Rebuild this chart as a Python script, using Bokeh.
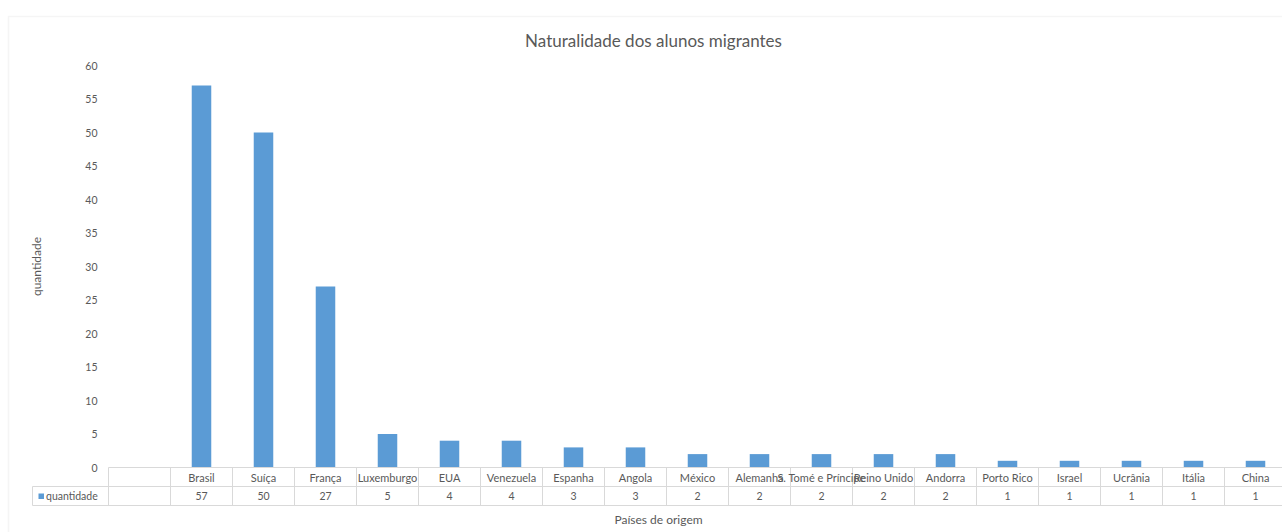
from bokeh.plotting import figure
from bokeh.models import Range1d, Label, BoxAnnotation, ColumnDataSource
from bokeh.core.properties import value
from bokeh.embed import file_html
from bokeh.resources import INLINE

# ---- data ----
title_text = "Naturalidade dos alunos migrantes"
y_axis_title = "quantidade"
x_axis_title = "Países de origem"
series_name = "quantidade"
countries = ["Brasil", "Suíça", "França", "Luxemburgo", "EUA", "Venezuela", "Espanha",
             "Angola", "México", "Alemanha", "S. Tomé e Príncipe", "Reino Unido",
             "Andorra", "Porto Rico", "Israel", "Ucrânia", "Itália", "China"]
counts = [57, 50, 27, 5, 4, 4, 3, 3, 2, 2, 2, 2, 2, 1, 1, 1, 1, 1]
y_ticks = [0, 5, 10, 15, 20, 25, 30, 35, 40, 45, 50, 55, 60]

# ---- layout constants (pixels) ----
W, H = 1282, 532
PLOT_LEFT = 108          # left edge of the first (blank) table column
CELL = 62                # width of one category column
Y0_PX, YTOP_PX = 467, 65
PPU = (Y0_PX - YTOP_PX) / (y_ticks[-1] - y_ticks[0])
FONT = "Lato"
TXT = "#595959"
GRID = "#d9d9d9"
BLUE = "#5B9BD5"


def X(px):
    return (px - PLOT_LEFT) / CELL


def Y(py):
    return (Y0_PX - py) / PPU


n_cols = len(countries) + 1  # first table column is blank

p = figure(width=W, height=H, output_backend="svg", toolbar_location=None,
           x_range=Range1d(X(0), X(W)), y_range=Range1d(Y(H), Y(0)),
           min_border=0, x_axis_location=None, y_axis_location=None)
p.outline_line_color = None
p.background_fill_color = "white"
p.border_fill_color = "white"
for g in p.grid:
    g.visible = False

# y axis tick labels and title
p.text(x=[X(97)] * len(y_ticks), y=y_ticks, text=[str(t) for t in y_ticks],
       text_font=value(FONT), text_font_size="10.5px", text_color=TXT,
       text_align="right", text_baseline="middle")
p.text(x=[X(36)], y=[Y(266)], text=[y_axis_title], angle=1.5708,
       text_font=value(FONT), text_font_size="12px", text_color=TXT,
       text_align="center", text_baseline="middle")

# bars
centers = [i + 1.5 for i in range(len(countries))]
src = ColumnDataSource(dict(
    x=centers, top=counts, name=countries, val=[str(c) for c in counts],
    y1=[Y(476.5)] * len(countries), y2=[Y(495.5)] * len(countries)))
p.vbar(x="x", top="top", bottom=0, width=0.315, source=src,
       fill_color=BLUE, line_color=None)

# data table lines
xr = [float(i) for i in range(n_cols + 1)]
p.segment(x0=xr, x1=xr, y0=[Y(467)] * len(xr), y1=[Y(505)] * len(xr),
          line_color=GRID, line_width=1)
p.segment(x0=[0, X(32), X(32)], x1=[n_cols] * 3, y0=[Y(467), Y(486), Y(505)],
          y1=[Y(467), Y(486), Y(505)], line_color=GRID, line_width=1)
p.segment(x0=[X(32)], x1=[X(32)], y0=[Y(486)], y1=[Y(505)], line_color=GRID, line_width=1)

# table text
p.text(x="x", y="y1", text="name", source=src, text_font=value(FONT),
       text_font_size="11px", text_color=TXT, text_align="center",
       text_baseline="middle")
p.text(x="x", y="y2", text="val", source=src, text_font=value(FONT),
       text_font_size="10.5px", text_color=TXT, text_align="center",
       text_baseline="middle")

# legend key in the table
p.add_layout(BoxAnnotation(left=X(38), right=X(43.5), top=Y(493), bottom=Y(498.5),
                           fill_color=BLUE, fill_alpha=1, line_color=None))
p.add_layout(Label(x=X(45.5), y=Y(495.5), text=series_name, text_align="left",
                   text_baseline="middle", text_font=FONT, text_font_size="10.5px",
                   text_color=TXT))

# outer chart border
p.add_layout(BoxAnnotation(left=X(8), right=X(1320), top=Y(16), bottom=Y(560),
                           fill_color=None, line_color="#dedede", line_width=1.5))

# titles
p.add_layout(Label(x=X(653), y=Y(40), text=title_text, text_align="center",
                   text_baseline="middle", text_font=FONT, text_font_size="17px",
                   text_color=TXT))
p.add_layout(Label(x=X(658), y=Y(518.5), text=x_axis_title, text_align="center",
                   text_baseline="middle", text_font=FONT, text_font_size="12px",
                   text_color=TXT))

open("out.html", "w").write(file_html(p, INLINE))
